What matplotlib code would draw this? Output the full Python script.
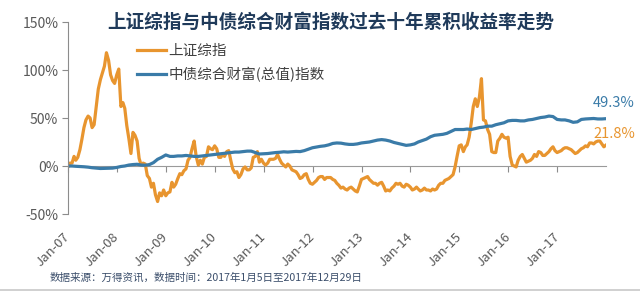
import pandas as pd
import matplotlib
matplotlib.use('Agg')
import matplotlib.pyplot as plt
import matplotlib.dates as mdates
from matplotlib.lines import Line2D

plt.rcParams['font.family'] = ['Noto Sans CJK SC', 'DejaVu Sans']

# 上证综指累积收益率(%)，每月15日与月末各一个点，起点为2007-01-05
sse_start = '2007-01-05'
sse = {
    2007: [3, 3, 10, 6, 9, 17, 28, 40, 48, 52, 50, 40, 43, 62, 80, 90, 97, 104, 118, 110, 95, 89, 86, 95],
    2008: [101, 62, 66, 60, 42, 28, 13, 35, 32, 26, 8, 1, 3, 2, -10, -13, -22, -18, -30, -37, -28, -31, -25, -31],
    2009: [-28, -27, -17, -22, -19, -13, -8, -9, -5, -3, 6, 9, 18, 26, 10, 1, 6, 2, 9, 10, 20, 18, 17, 21],
    2010: [18, 9, 9, 12, 10, 15, 16, 6, -3, -7, -6, -12, -9, -3, -1, -4, -4, -2, 9, 10, 15, 4, 7, 3],
    2011: [1, 3, 7, 7, 7, 8, 12, 7, 3, 1, -1, 2, 0, -4, -5, -6, -9, -13, -12, -9, -8, -14, -18, -19],
    2012: [-17, -15, -12, -11, -11, -14, -12, -12, -12, -14, -15, -18, -20, -23, -22, -24, -25, -23, -22, -24, -26, -27, -21, -14],
    2013: [-13, -12, -11, -14, -16, -18, -18, -20, -18, -17, -21, -26, -25, -26, -23, -21, -18, -19, -18, -21, -22, -19, -20, -22],
    2014: [-25, -24, -22, -24, -26, -25, -23, -25, -25, -26, -24, -25, -24, -20, -18, -18, -15, -14, -13, -11, -9, -1, 10, 21],
    2015: [22, 15, 20, 22, 30, 45, 62, 70, 62, 72, 91, 48, 47, 38, 33, 15, 14, 14, 26, 29, 33, 30, 29, 30],
    2016: [10, 1, 0, -1, 6, 10, 12, 8, 4, 5, 6, 8, 12, 10, 15, 14, 11, 11, 13, 15, 18, 20, 16, 14],
    2017: [15, 16, 18, 19, 19, 18, 17, 15, 13, 14, 16, 18, 19, 21, 20, 24, 24, 23, 25, 26, 26, 23, 20, 21.8],
}

# 中债综合财富(总值)指数累积收益率(%)，每月月末，起点为2007-01-05
bond_start = '2007-01-05'
bond = {
    2007: [0, -0.3, -0.5, -0.8, -1.2, -1.8, -2.2, -2.6, -2.5, -2.4, -2.2, -1.5],
    2008: [-0.5, 0, 1.0, 1.5, 1.8, 1.0, 0.8, 1.5, 3.5, 7, 9, 11.5],
    2009: [10, 10, 10.5, 10.5, 11, 10.5, 10, 10, 10.5, 11, 11.5, 12],
    2010: [12.5, 13, 13.5, 14, 14.5, 14.5, 15, 15.5, 15.5, 14, 12.5, 12.8],
    2011: [13, 13.5, 14, 14.3, 14.8, 14.5, 14.8, 15.2, 15, 16, 17.5, 19],
    2012: [19.8, 20.5, 21, 22, 23.5, 24, 23.8, 23, 22.5, 22.5, 23, 24],
    2013: [24.5, 25, 26, 27, 27.5, 27, 26, 24.5, 23.5, 22.5, 21.5, 22],
    2014: [23, 25, 26.5, 28, 30.5, 32, 32.5, 33, 34, 36, 38, 38],
    2015: [38, 38.5, 38, 39, 40, 40.5, 41.5, 41.5, 43, 44, 45, 47],
    2016: [47.5, 47.5, 47, 47, 48, 48.5, 49.5, 50.5, 51, 52, 51.5, 48.5],
    2017: [48, 48, 47, 45.5, 46, 48.5, 49, 49.2, 49.5, 49, 49, 49.3],
}

sse_label = '上证综指'
bond_label = '中债综合财富(总值)指数'
title = '上证综指与中债综合财富指数过去十年累积收益率走势'
source = '数据来源：万得资讯，数据时间：2017年1月5日至2017年12月29日'

c_sse = '#E8952F'
c_bond = '#3A7BA8'

# 组装时间序列
sse_dates = [pd.Timestamp(sse_start)]
sse_vals = [0]
for y, vals in sse.items():
    for m in range(1, 13):
        sse_dates.append(pd.Timestamp(y, m, 15))
        sse_dates.append(pd.Timestamp(y, m, 1) + pd.offsets.MonthEnd(0))
    sse_vals += vals
sse_s = pd.Series(sse_vals, index=sse_dates)

bond_dates = [pd.Timestamp(bond_start)]
bond_vals = [0]
for y, vals in bond.items():
    for m in range(1, 13):
        bond_dates.append(pd.Timestamp(y, m, 1) + pd.offsets.MonthEnd(0))
    bond_vals += vals
bond_s = pd.Series(bond_vals, index=bond_dates)

fig = plt.figure(figsize=(6.4, 2.91), dpi=100)
ax = fig.add_axes([68 / 640, 1 - 214 / 291, 538 / 640, 192 / 291])

ax.plot(sse_s.index, sse_s.values, color=c_sse, lw=2.3, label=sse_label, solid_joinstyle='round')
ax.plot(bond_s.index, bond_s.values, color=c_bond, lw=2.3, label=bond_label, solid_joinstyle='round')

ax.set_ylim(-50, 150)
ax.set_xlim(pd.Timestamp('2007-01-01'), pd.Timestamp('2017-12-31'))
ax.set_yticks([-50, 0, 50, 100, 150])
ax.set_yticklabels([f'{v}%' for v in [-50, 0, 50, 100, 150]])

for s in ['top', 'right', 'bottom']:
    ax.spines[s].set_visible(False)
ax.spines['left'].set_color('#8C8C8C')
ax.tick_params(axis='y', length=4, color='#8C8C8C', labelsize=10, labelcolor='#595959', pad=3)

years = mdates.YearLocator()
ax.xaxis.set_major_locator(years)
ax.xaxis.set_major_formatter(mdates.DateFormatter('%b-%y'))
ax.tick_params(axis='x', length=0, labelsize=9.5, labelcolor='#595959', pad=15)
for lab in ax.get_xticklabels():
    lab.set_rotation(45)
    lab.set_ha('right')
    lab.set_va('center')
    lab.set_rotation_mode('anchor')

# 零轴与刻度线
zero = ax.secondary_xaxis(0.25)
zero.xaxis.set_major_locator(mdates.YearLocator())
zero.tick_params(axis='x', length=4, color='#8C8C8C', labelbottom=False)
zero.spines['bottom'].set_color('#9A9A9A')

leg = ax.legend(loc='upper left', bbox_to_anchor=(0.128, 0.885), frameon=False,
                borderpad=0, borderaxespad=0, handlelength=2.0, handletextpad=0.15,
                labelspacing=0.6, fontsize=10.5)
for t in leg.get_texts():
    t.set_color('#404040')

ax.annotate(f'{bond_s.values[-1]:.1f}%', xy=(bond_s.index[-1], bond_s.values[-1]),
            xytext=(29, 16), textcoords='offset pixels', ha='right', va='center',
            color=c_bond, fontsize=10.5, annotation_clip=False)
ax.annotate(f'{sse_s.values[-1]:.1f}%', xy=(sse_s.index[-1], sse_s.values[-1]),
            xytext=(29, 11), textcoords='offset pixels', ha='right', va='center',
            color=c_sse, fontsize=10.5, annotation_clip=False)

fig.text(331 / 640, 1 - 22 / 291, title, ha='center', va='center',
         fontsize=13.4, fontweight='bold', color='#1F3A5A')
fig.text(50 / 640, 1 - 278 / 291, source, ha='left', va='center',
         fontsize=7.6, color='#3B4E6B')
fig.add_artist(Line2D([0, 1], [0.004, 0.004], color='#C8C8C8', lw=1.2))

fig.savefig('out.png', dpi=100)
